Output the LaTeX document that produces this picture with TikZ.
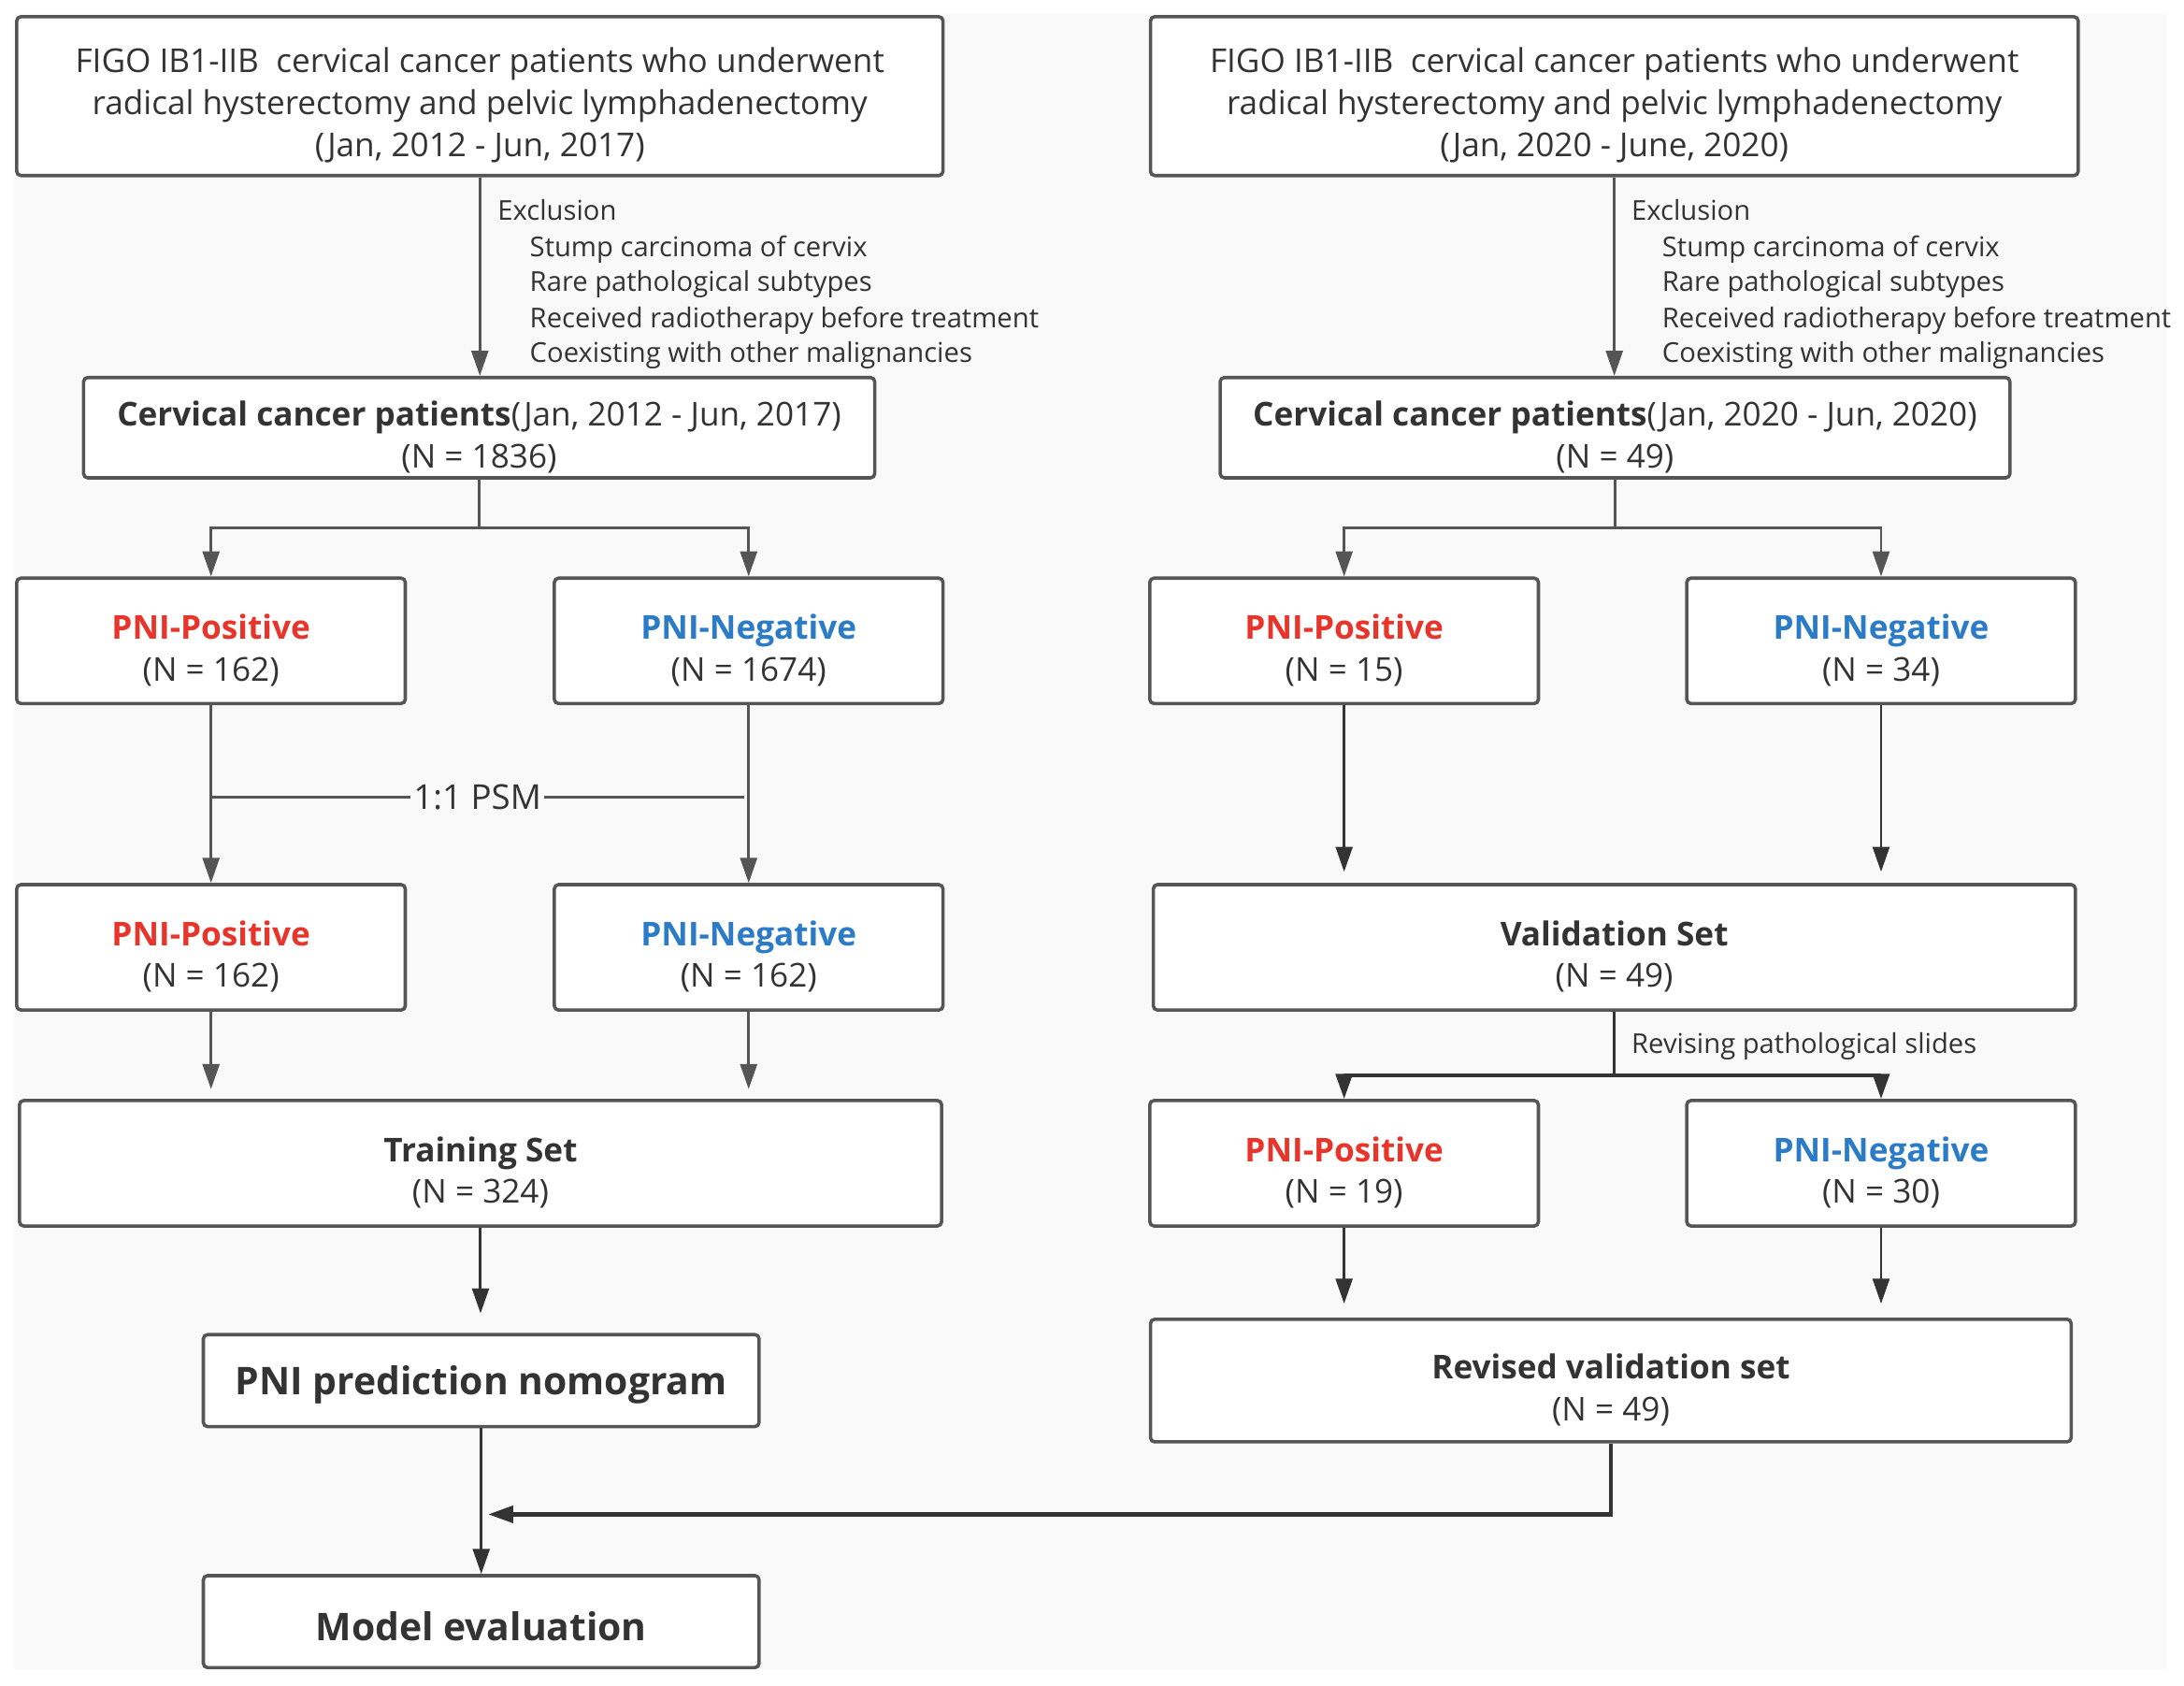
\documentclass[tikz,border=0pt]{standalone}
\usepackage{fontspec}
\setmainfont{Open Sans}
\usetikzlibrary{arrows.meta,calc}
\definecolor{bg}{HTML}{F9F9F9}
\definecolor{bd}{HTML}{555555}
\definecolor{dk}{HTML}{333333}
\definecolor{tx}{HTML}{333333}
\definecolor{pos}{HTML}{E8352B}
\definecolor{neg}{HTML}{2B7BC7}
% #1 name, #2 position, #3 box style, #4 text style, #5 text
\newcommand\mybox[5]{%
  \node[#3] (#1) at (#2) {};
  \node[#4] (#1t) at (#1.center) {#5};}
\begin{document}
\begin{tikzpicture}[x=0.5pt,y=-0.5pt,
  bx/.style={draw=bd, line width=1.2pt, fill=white, rounded corners=1.5pt, inner sep=0pt},
  sbox/.style={bx, minimum width=139.5pt, minimum height=45pt},
  wbox/.style={bx, minimum width=331pt, minimum height=45pt},
  bigbox/.style={bx, minimum width=199.5pt, minimum height=33pt},
  txt/.style={inner sep=0pt, yshift=-3.3pt, align=center, text=tx, font=\fontsize{11.8}{15}\selectfont},
  bigtxt/.style={inner sep=0pt, yshift=-1.6pt, align=center, text=tx, font=\fontsize{13.7}{16}\selectfont\bfseries},
  arr/.style={draw=bd, line width=1pt, -{Triangle[length=9pt,width=6pt]}},
  darr/.style={draw=dk, line width=1pt, -{Triangle[length=9pt,width=6pt]}},
  ln/.style={draw=bd, line width=1pt},
  note/.style={anchor=base west, inner sep=0pt, text=tx, font=\fontsize{9.8}{11}\selectfont}]
\useasboundingbox (0,0) rectangle (1568,1210);
\fill[white] (0,0) rectangle (1568,1210);
\fill[bg] (10,10) rectangle (1556,1198);

% ---------- left column ----------
\mybox{A}{344.5,69}{bx, minimum width=332.5pt, minimum height=57pt}{txt}
  {FIGO IB1-IIB\ \ cervical cancer patients who underwent\\radical hysterectomy and pelvic lymphadenectomy\\(Jan, 2012 - Jun, 2017)}
\mybox{B}{344,307}{bx, minimum width=284pt, minimum height=36pt}{txt}
  {\textbf{Cervical cancer patients}(Jan, 2012 - Jun, 2017)\\(N = 1836)}
\mybox{C1}{151.5,460}{sbox}{txt}{\textcolor{pos}{\textbf{PNI-Positive}}\\(N = 162)}
\mybox{C2}{537.5,460}{sbox}{txt}{\textcolor{neg}{\textbf{PNI-Negative}}\\(N = 1674)}
\mybox{D1}{151.5,680}{sbox}{txt}{\textcolor{pos}{\textbf{PNI-Positive}}\\(N = 162)}
\mybox{D2}{537.5,680}{sbox}{txt}{\textcolor{neg}{\textbf{PNI-Negative}}\\(N = 162)}
\mybox{T}{345,835}{wbox}{txt}{\textbf{Training Set}\\(N = 324)}
\mybox{NM}{345.5,991}{bigbox}{bigtxt}{PNI prediction nomogram}
\mybox{ME}{345.5,1164}{bigbox}{bigtxt}{Model evaluation}

\node[note] (exL) at (357,158) {Exclusion};
\node[note] (exL1) at (380,184) {Stump carcinoma of cervix};
\node[note] (exL2) at (380,209) {Rare pathological subtypes};
\node[note] (exL3) at (380,235) {Received radiotherapy before treatment};
\node[note] (exL4) at (380,260) {Coexisting with other malignancies};

% ---------- right column ----------
\mybox{A2}{1159,69}{bx, minimum width=333pt, minimum height=57pt}{txt}
  {FIGO IB1-IIB\ \ cervical cancer patients who underwent\\radical hysterectomy and pelvic lymphadenectomy\\(Jan, 2020 - June, 2020)}
\mybox{B2}{1159.5,307}{bx, minimum width=283.5pt, minimum height=36pt}{txt}
  {\textbf{Cervical cancer patients}(Jan, 2020 - Jun, 2020)\\(N = 49)}
\mybox{C3}{965,460}{sbox}{txt}{\textcolor{pos}{\textbf{PNI-Positive}}\\(N = 15)}
\mybox{C4}{1350.5,460}{sbox}{txt}{\textcolor{neg}{\textbf{PNI-Negative}}\\(N = 34)}
\mybox{V}{1159,680}{wbox}{txt}{\textbf{Validation Set}\\(N = 49)}
\mybox{C5}{965,835}{sbox}{txt}{\textcolor{pos}{\textbf{PNI-Positive}}\\(N = 19)}
\mybox{C6}{1350.5,835}{sbox}{txt}{\textcolor{neg}{\textbf{PNI-Negative}}\\(N = 30)}
\mybox{R}{1156.5,991}{wbox, minimum width=330.5pt, minimum height=44pt}{txt}{\textbf{Revised validation set}\\(N = 49)}

\node[note] (exR) at (1171,158) {Exclusion};
\node[note] (exR1) at (1193,184) {Stump carcinoma of cervix};
\node[note] (exR2) at (1193,209) {Rare pathological subtypes};
\node[note] (exR3) at (1193,235) {Received radiotherapy before treatment};
\node[note] (exR4) at (1193,260) {Coexisting with other malignancies};
\node[note] (rev) at (1171,756) {Revising pathological slides};

% ---------- connectors left ----------
\draw[arr] (A.south) -- (A.south |- B.north);
\coordinate (jB) at (344,379);
\draw[ln] (B.south) -- (jB);
\draw[arr] (jB) -| (C1.north);
\draw[arr] (jB) -| (C2.north);
\draw[arr] (C1.south) -- (D1.north);
\draw[arr] (C2.south) -- (D2.north);
\coordinate (psmy) at (0,572);
\coordinate (psmR) at (534,572);
\draw[ln] (C1.south |- psmy) -- node[fill=bg, inner sep=1pt, text=tx, font=\fontsize{12.3}{14}\selectfont, pos=0.5] (psm) {1:1 PSM} (psmR);
\draw[arr, shorten >=3.5pt] (D1.south) -- (D1.south |- T.north);
\draw[arr, shorten >=3.5pt] (D2.south) -- (D2.south |- T.north);
\draw[darr, shorten >=7pt] (T.south) -- (T.south |- NM.north);
\draw[darr] (NM.south) -- (ME.north);
\coordinate (mg) at (345.5,1087);
\draw[darr, line width=1.4pt, shorten >=2.5pt] (R.south) |- (mg);

% ---------- connectors right ----------
\draw[arr] (A2.south) -- (A2.south |- B2.north);
\coordinate (jB2) at (1159.5,379);
\draw[ln] (B2.south) -- (jB2);
\draw[arr] (jB2) -| (C3.north);
\draw[arr] (jB2) -| (C4.north);
\draw[darr, shorten >=4pt] (C3.south) -- (C3.south |- V.north);
\draw[darr, shorten >=4pt] (C4.south) -- (C4.south |- V.north);
\coordinate (jV) at (1159,772);
\draw[draw=dk, line width=1pt] (V.south) -- (jV);
\draw[darr, line width=1.2pt] (jV) -| (C5.north);
\draw[darr, line width=1.2pt] (jV) -| (C6.north);
\draw[darr, shorten >=5pt] (C5.south) -- (C5.south |- R.north);
\draw[darr, shorten >=5pt] (C6.south) -- (C6.south |- R.north);
\end{tikzpicture}
\end{document}
